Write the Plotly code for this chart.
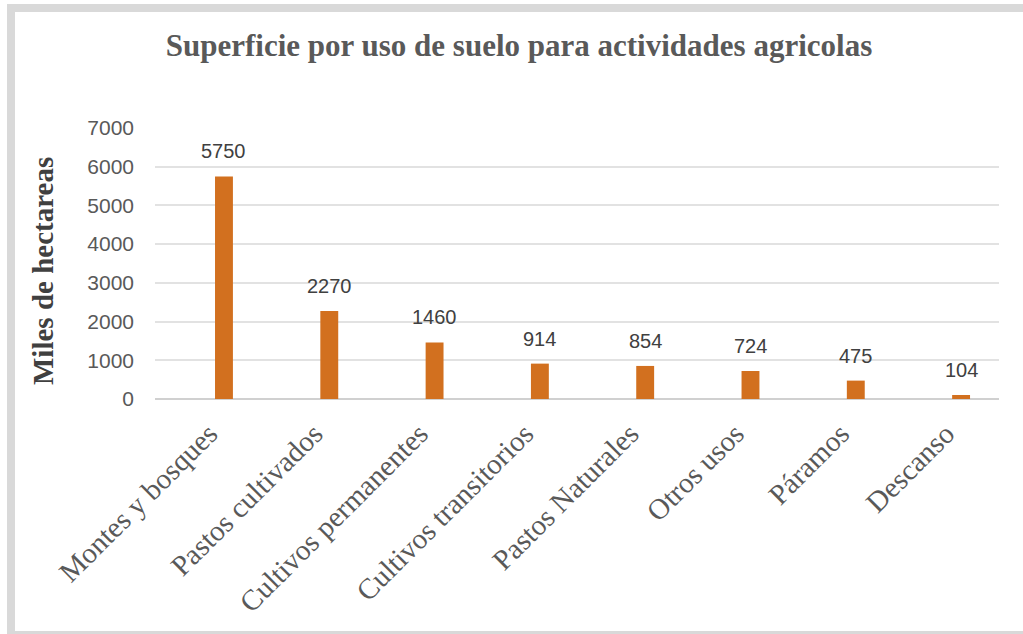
import plotly.graph_objs as go


categorias = ['Montes y bosques', 'Pastos cultivados', 'Cultivos permanentes',
              'Cultivos transitorios', 'Pastos Naturales', 'Otros usos',
              'Páramos', 'Descanso']
miles_ha = [5750, 2270, 1460, 914, 854, 724, 475, 104]
y_ticks = [0, 1000, 2000, 3000, 4000, 5000, 6000, 7000]

W, H = 1023, 634
L, R, T, B = 155, 24, 128, 235


def px_x(px):
    return (px - L) / (W - L - R)


def px_y(py):
    return (H - B - py) / (H - T - B)


def band(x0, y0, x1, y1):
    return dict(type='rect', xref='paper', yref='paper',
                x0=px_x(x0), x1=px_x(x1), y0=px_y(y0), y1=px_y(y1),
                fillcolor='#d9d9d9', line=dict(width=0), layer='below')


# value labels above the bars
labels = [
    dict(x=c, y=v, text=str(v), xref='x', yref='y',
         showarrow=False, yanchor='bottom', yshift=12,
         font=dict(family='Liberation Sans, Arial', size=20, color='#404040'))
    for c, v in zip(categorias, miles_ha)
]

# y axis title as annotation so it can sit a little lower
labels.append(
    dict(x=px_x(43), y=px_y(271), xref='paper', yref='paper',
         text='<b>Miles de hectareas</b>', textangle=-90,
         showarrow=False, xanchor='center', yanchor='middle',
         font=dict(family='Liberation Serif, Times New Roman', size=29, color='#404040'))
)

fig = go.Figure(
    data=[
        go.Bar(
            x=categorias,
            y=miles_ha,
            marker=dict(color='#D2701F', line=dict(width=0)),
        )
    ],
    layout=go.Layout(
        width=W,
        height=H,
        showlegend=False,
        paper_bgcolor='white',
        plot_bgcolor='white',
        margin=dict(l=L, r=R, t=T, b=B, pad=0),
        bargap=0.83,
        title=dict(
            text='<b>Superficie por uso de suelo para actividades agricolas</b>',
            x=px_x(519), xref='paper', xanchor='center',
            y=1 - 45 / H, yanchor='middle',
            font=dict(family='Liberation Serif, Times New Roman', size=31, color='#595959'),
        ),
        xaxis=dict(
            range=[-0.655, 7.36],
            tickangle=-45,
            tickfont=dict(family='Liberation Serif, Times New Roman', size=29, color='#595959'),
            ticklabelstandoff=11,
            ticklabelshift=-15,
            showgrid=False,
            showline=False,
            ticks='',
        ),
        yaxis=dict(
            range=[0, 7000],
            tickvals=y_ticks,
            tickfont=dict(family='Liberation Sans, Arial', size=21, color='#595959'),
            ticklabelstandoff=20,
            showgrid=True,
            gridcolor='#e2e2e2',
            gridwidth=2,
            zeroline=True,
            zerolinecolor='#d0d0d0',
            zerolinewidth=2,
            ticks='',
        ),
        annotations=labels,
        shapes=[
            band(7, 4, W, 12),
            band(7, 4, 15, H),
            band(7, 631, W, H),
        ],
    ),
)

fig.write_html('out.html', config=dict(displayModeBar=False),
               post_script="document.body.style.margin='0px';")
